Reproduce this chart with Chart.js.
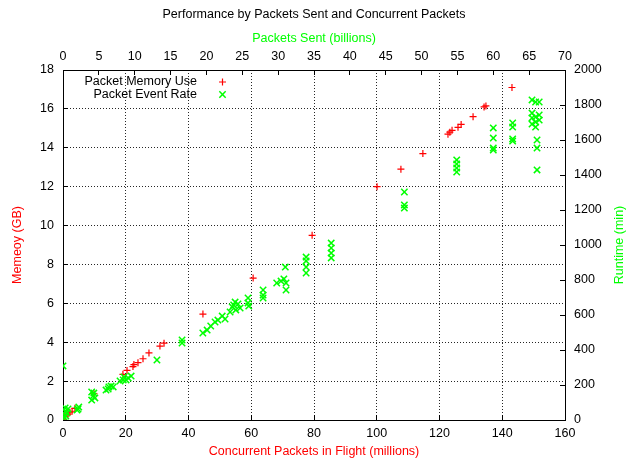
<!DOCTYPE html>
<html>
<head>
<meta charset="utf-8">
<title>Performance by Packets Sent and Concurrent Packets</title>
<script src="https://cdn.jsdelivr.net/npm/chart.js@4/dist/chart.umd.min.js"></script>
<style>
  html, body { margin: 0; padding: 0; background: #fff; }
  #wrap { width: 628px; height: 459px; }
</style>
</head>
<body>
<div id="wrap"><canvas id="perfChart" width="628" height="459"></canvas></div>
<script>
// Mémoire utilisée (axe du bas / axe de gauche)
let memPackets = [0, 0.6, 1.6, 2.2, 2.9, 3.8, 9.9, 19.1, 20.4, 22.3, 22.6, 23.9, 25.5, 27.4, 30.9, 32.2,
  44.6, 60.6, 79.4, 100.1, 107.7, 114.7, 122.7, 123.3, 124.0, 125.9, 126.9, 130.7, 134.2, 134.8, 143.1];
let memGB = [0.05, 0.2, 0.3, 0.4, 0.45, 0.6, 1.35, 2.35, 2.55, 2.75, 2.85, 2.95, 3.15, 3.45, 3.8, 3.95,
  5.45, 7.3, 9.5, 12.0, 12.9, 13.7, 14.7, 14.8, 14.9, 15.05, 15.2, 15.6, 16.1, 16.15, 17.1];

// Temps d'exécution (axe du haut / axe de droite)
let sentBillions = [0, 0, 0.15, 0.3, 0.4, 0.55, 0, 0.7, 0.3,
  1.95, 2.2, 2.1,
  4.0, 4.2, 4.3, 4.0, 4.45,
  6.0, 6.4, 6.7, 7.0, 6.3,
  7.95, 8.4, 8.8, 9.1, 8.5, 9.5,
  13.1, 16.6, 16.6,
  19.5, 20.1, 20.6, 21.2, 21.6, 22.2, 22.6,
  23.3, 23.6, 23.8, 24.1, 24.4, 24.7, 24.0,
  25.8, 25.8, 25.9, 27.9, 27.9, 27.9,
  29.8, 30.4, 30.8, 31.1, 31.1, 31.0,
  33.9, 33.9, 33.9, 33.9, 37.4, 37.4, 37.4, 37.4,
  47.6, 47.6, 47.6,
  54.9, 54.9, 54.9, 54.9,
  60, 60, 60, 60, 62.7, 62.7, 62.7, 62.7,
  65.4, 65.9, 66.4, 65.4, 65.4, 65.4, 65.9, 65.9, 65.9, 66.4, 66.4, 66.1, 66.1, 66.1];
let runtimeMin = [6, 34, 17, 51, 23, 40, 309, 63, 69,
  57, 74, 63,
  114, 137, 154, 160, 126,
  171, 189, 194, 189, 177,
  223, 229, 229, 240, 246, 251,
  343, 440, 457,
  497, 514, 537, 560, 571, 594, 577,
  617, 646, 657, 629, 663, 640, 674,
  697, 669, 651, 743, 714, 697,
  783, 794, 806, 783, 743, 874,
  931, 909, 874, 840, 1011, 983, 954, 926,
  1303, 1229, 1211,
  1486, 1463, 1440, 1417,
  1669, 1611, 1554, 1543, 1697, 1674, 1606, 1594,
  1829, 1817, 1817, 1754, 1726, 1691, 1731, 1703, 1674, 1743, 1714, 1600, 1554, 1429];

// Bornes des axes : [min, max, pas]
let packetsAxis = [0, 160, 20];
let memoryAxis = [0, 18, 2];
let sentAxis = [0, 70, 5];
let runtimeAxis = [0, 2000, 200];

const RED = '#ff0000';
const GREEN = '#00ff00';
const GRID = 'rgba(0,0,0,0.85)';
const FONT = '12.5px "Liberation Sans", Arial, sans-serif';

Chart.defaults.font.family = '"Liberation Sans", Arial, sans-serif';
Chart.defaults.font.size = 12.5;
Chart.defaults.color = '#000';

function toPoints(xs, ys) {
  return xs.map(function(x, i) { return { x: x, y: ys[i] }; });
}

function alignPx(p) {
  return Math.round(p - 0.5) + 0.5;
}

// Pas de séparateur de milliers (2000, pas 2,000)
function plainLabel(value) {
  return String(value);
}

// Graduations vers l'intérieur, légende dans le cadre, titre de droite
const gnuplotLook = {
  id: 'gnuplotLook',
  beforeDatasetsDraw(chart) {
    let ctx = chart.ctx;
    let area = chart.chartArea;
    let len = 5;
    ctx.save();
    ctx.strokeStyle = '#000';
    ctx.lineWidth = 1;
    ctx.beginPath();
    Object.values(chart.scales).forEach(function(scale) {
      scale.ticks.forEach(function(t) {
        let p = alignPx(scale.getPixelForValue(t.value));
        if (scale.position === 'bottom') {
          ctx.moveTo(p, area.bottom); ctx.lineTo(p, area.bottom - len);
        } else if (scale.position === 'top') {
          ctx.moveTo(p, area.top); ctx.lineTo(p, area.top + len);
        } else if (scale.position === 'left') {
          ctx.moveTo(area.left, p); ctx.lineTo(area.left + len, p);
        } else {
          ctx.moveTo(area.right, p); ctx.lineTo(area.right - len, p);
        }
      });
    });
    ctx.stroke();
    ctx.restore();
  },
  afterDraw(chart) {
    let ctx = chart.ctx;
    let area = chart.chartArea;
    ctx.save();
    ctx.font = FONT;
    ctx.textBaseline = 'middle';

    // légende
    chart.data.datasets.forEach(function(ds, i) {
      let y = area.top + 12 + i * 12.5;
      ctx.fillStyle = '#000';
      ctx.textAlign = 'right';
      ctx.fillText(ds.label, area.left + 134, y);
      ctx.strokeStyle = ds.borderColor;
      ctx.fillStyle = ds.borderColor;
      ctx.lineWidth = ds.borderWidth;
      Chart.helpers.drawPoint(ctx, {
        pointStyle: ds.pointStyle,
        radius: ds.pointRadius,
        borderWidth: ds.borderWidth,
        rotation: 0
      }, area.left + 159.5, y);
    });

    // titre de l'axe de droite (lu de bas en haut)
    ctx.translate(620, (area.top + area.bottom) / 2);
    ctx.rotate(-Math.PI / 2);
    ctx.textAlign = 'center';
    ctx.fillStyle = GREEN;
    ctx.fillText('Runtime (min)', 0, 0);
    ctx.restore();
  }
};

let ctx = document.getElementById('perfChart').getContext('2d');

let perfChart = new Chart(ctx, {
  type: 'scatter',
  data: {
    datasets: [{
      label: 'Packet Memory Use',
      data: toPoints(memPackets, memGB),
      xAxisID: 'x',
      yAxisID: 'y',
      pointStyle: 'cross',
      pointRadius: 3.5,
      pointHoverRadius: 3.5,
      borderWidth: 1.2,
      borderColor: RED,
      backgroundColor: RED,
      order: 2
    }, {
      label: 'Packet Event Rate',
      data: toPoints(sentBillions, runtimeMin),
      xAxisID: 'x2',
      yAxisID: 'y2',
      pointStyle: 'crossRot',
      pointRadius: 4.5,
      pointHoverRadius: 4.5,
      borderWidth: 1.5,
      borderColor: GREEN,
      backgroundColor: GREEN,
      order: 1
    }]
  },
  options: {
    responsive: false,
    animation: false,
    devicePixelRatio: 1,
    events: [],
    layout: { padding: 0 },
    plugins: {
      legend: { display: false },
      tooltip: { enabled: false },
      title: {
        display: true,
        text: 'Performance by Packets Sent and Concurrent Packets',
        color: '#000',
        font: { size: 12.5, weight: 'normal' },
        padding: { top: 7, bottom: 0 }
      }
    },
    scales: {
      x: {
        type: 'linear',
        position: 'bottom',
        min: packetsAxis[0],
        max: packetsAxis[1],
        ticks: { stepSize: packetsAxis[2], padding: 6.5, maxRotation: 0, autoSkip: false, callback: plainLabel },
        grid: { color: GRID, drawTicks: false },
        border: { color: '#000', width: 1, dash: [1, 2] },
        title: { display: true, text: 'Concurrent Packets in Flight (millions)', color: RED, padding: { top: 0, bottom: 0 } },
        afterFit: function(s) { s.height = 39; }
      },
      y: {
        type: 'linear',
        position: 'left',
        min: memoryAxis[0],
        max: memoryAxis[1],
        ticks: { stepSize: memoryAxis[2], padding: 9, callback: plainLabel },
        grid: { color: GRID, drawTicks: false },
        border: { color: '#000', width: 1, dash: [1, 2] },
        title: { display: true, text: 'Memeoy (GB)', color: RED, padding: { top: 10.5, bottom: 0 } },
        afterFit: function(s) { s.width = 63; }
      },
      x2: {
        type: 'linear',
        axis: 'x',
        position: 'top',
        min: sentAxis[0],
        max: sentAxis[1],
        ticks: { stepSize: sentAxis[2], padding: 5.5, maxRotation: 0, autoSkip: false, callback: plainLabel },
        grid: { display: false, drawTicks: false },
        border: { color: '#000', width: 1 },
        title: { display: true, text: 'Packets Sent (billions)', color: GREEN, padding: { top: 9, bottom: 0 } },
        afterFit: function(s) { s.height = 48; }
      },
      y2: {
        type: 'linear',
        axis: 'y',
        position: 'right',
        min: runtimeAxis[0],
        max: runtimeAxis[1],
        ticks: { stepSize: runtimeAxis[2], padding: 9, callback: plainLabel },
        grid: { display: false, drawTicks: false },
        border: { color: '#000', width: 1 },
        title: { display: false },
        afterFit: function(s) { s.width = 63; }
      }
    }
  },
  plugins: [gnuplotLook]
});
</script>
</body>
</html>
